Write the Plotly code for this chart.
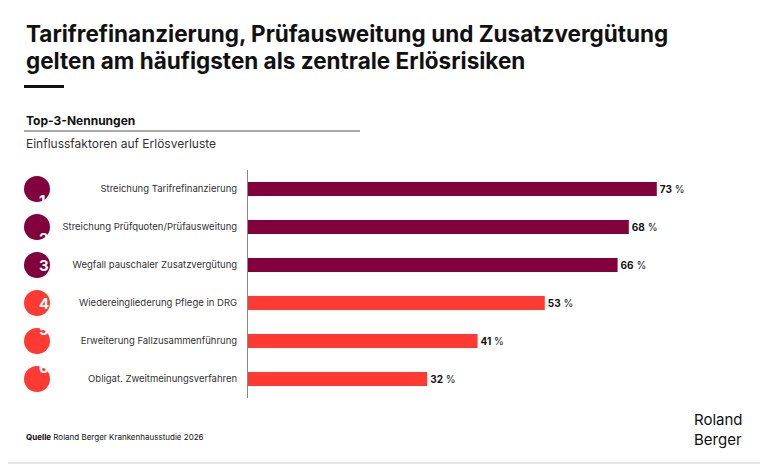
import plotly.graph_objects as go

# data
ranks = ["1", "2", "3", "4", "5", "6"]
factors = ["Streichung Tarifrefinanzierung", "Streichung Prüfquoten/Prüfausweitung",
           "Wegfall pauschaler Zusatzvergütung", "Wiedereingliederung Pflege in DRG",
           "Erweiterung Fallzusammenführung", "Obligat. Zweitmeinungsverfahren"]
shares = [73, 68, 66, 53, 41, 32]
colors = ["#82003C"] * 3 + ["#FF3A33"] * 3

# the page puts the figure 8px in from the top-left corner
OFF = 8
W, H = 768 - OFF, 464 - OFF
L, R, T, B = 248 - OFF, 0, 170 - OFF, 66
pw = W - L - R
ph = H - T - B
px_per = 5.6
xmax = pw / px_per

fig = go.Figure()
fig.add_trace(go.Bar(
    x=shares, y=factors, orientation="h", width=0.37,
    marker=dict(color=colors, line=dict(width=0)),
    text=[f"<b>{v}</b> %" for v in shares], textposition="outside",
    textfont=dict(family="Inter", size=10, color="#111"),
    cliponaxis=False, hoverinfo="skip"))


def px2x(p):
    return (p - OFF - L) / pw


def py2y(p):
    return 1 - (p - OFF - T) / ph


fig.update_layout(
    width=W, height=H, margin=dict(l=L, r=R, t=T, b=B),
    paper_bgcolor="white", plot_bgcolor="white", showlegend=False,
    xaxis=dict(range=[0, xmax], visible=False),
    yaxis=dict(autorange="reversed", showgrid=False, showline=True, linecolor="#888",
               linewidth=1, ticks="", ticklabelstandoff=8,
               tickfont=dict(family="Inter", size=9.5, color="#333")),
    font=dict(family="Inter"),
)

# numbered circles
for i, (r, c) in enumerate(zip(ranks, colors)):
    yc = 1 - (i + 0.5) / len(ranks)
    rad = 13 / ph
    fig.add_shape(type="circle", xref="paper", yref="paper",
                  x0=px2x(24), x1=px2x(50), y0=yc - rad, y1=yc + rad,
                  fillcolor=c, line_width=0)
    fig.add_annotation(x=px2x(37), y=yc, xref="paper", yref="paper", text=f"<b>{r}</b>",
                       showarrow=False, font=dict(family="Inter", size=15, color="white"))

ann = [
    (24, 33, "<b>Tarifrefinanzierung, Prüfausweitung und Zusatzvergütung</b>", 22.5, "#111"),
    (24, 61, "<b>gelten am häufigsten als zentrale Erlösrisiken</b>", 22.5, "#111"),
    (24, 120, "<b>Top-3-Nennungen</b>", 12, "#111"),
    (24, 143, "Einflussfaktoren auf Erlösverluste", 12, "#333"),
    (24, 437, "<b>Quelle</b> Roland Berger Krankenhausstudie 2026", 8, "#111"),
]
for x, y, t, s, c in ann:
    fig.add_annotation(x=px2x(x), y=py2y(y), xref="paper", yref="paper", text=t,
                       showarrow=False, xanchor="left", yanchor="middle",
                       font=dict(family="Inter", size=s, color=c))
fig.add_annotation(x=px2x(692), y=py2y(429), xref="paper", yref="paper",
                   text="Roland<br>Berger", showarrow=False, xanchor="left", yanchor="middle",
                   align="left", font=dict(family="Inter", size=15, color="#111"))

fig.add_shape(type="rect", xref="paper", yref="paper", x0=px2x(24), x1=px2x(64),
              y0=py2y(85), y1=py2y(88), fillcolor="#111", line_width=0)
fig.add_shape(type="line", xref="paper", yref="paper", x0=px2x(24), x1=px2x(360),
              y0=py2y(131), y1=py2y(131), line=dict(color="#555", width=1))
fig.add_shape(type="line", xref="paper", yref="paper", x0=px2x(766), x1=px2x(766),
              y0=py2y(0), y1=py2y(464), line=dict(color="#ccc", width=1))
fig.add_shape(type="line", xref="paper", yref="paper", x0=px2x(0), x1=px2x(768),
              y0=py2y(463), y1=py2y(463), line=dict(color="#ccc", width=1))

fig.write_html("out.html")
